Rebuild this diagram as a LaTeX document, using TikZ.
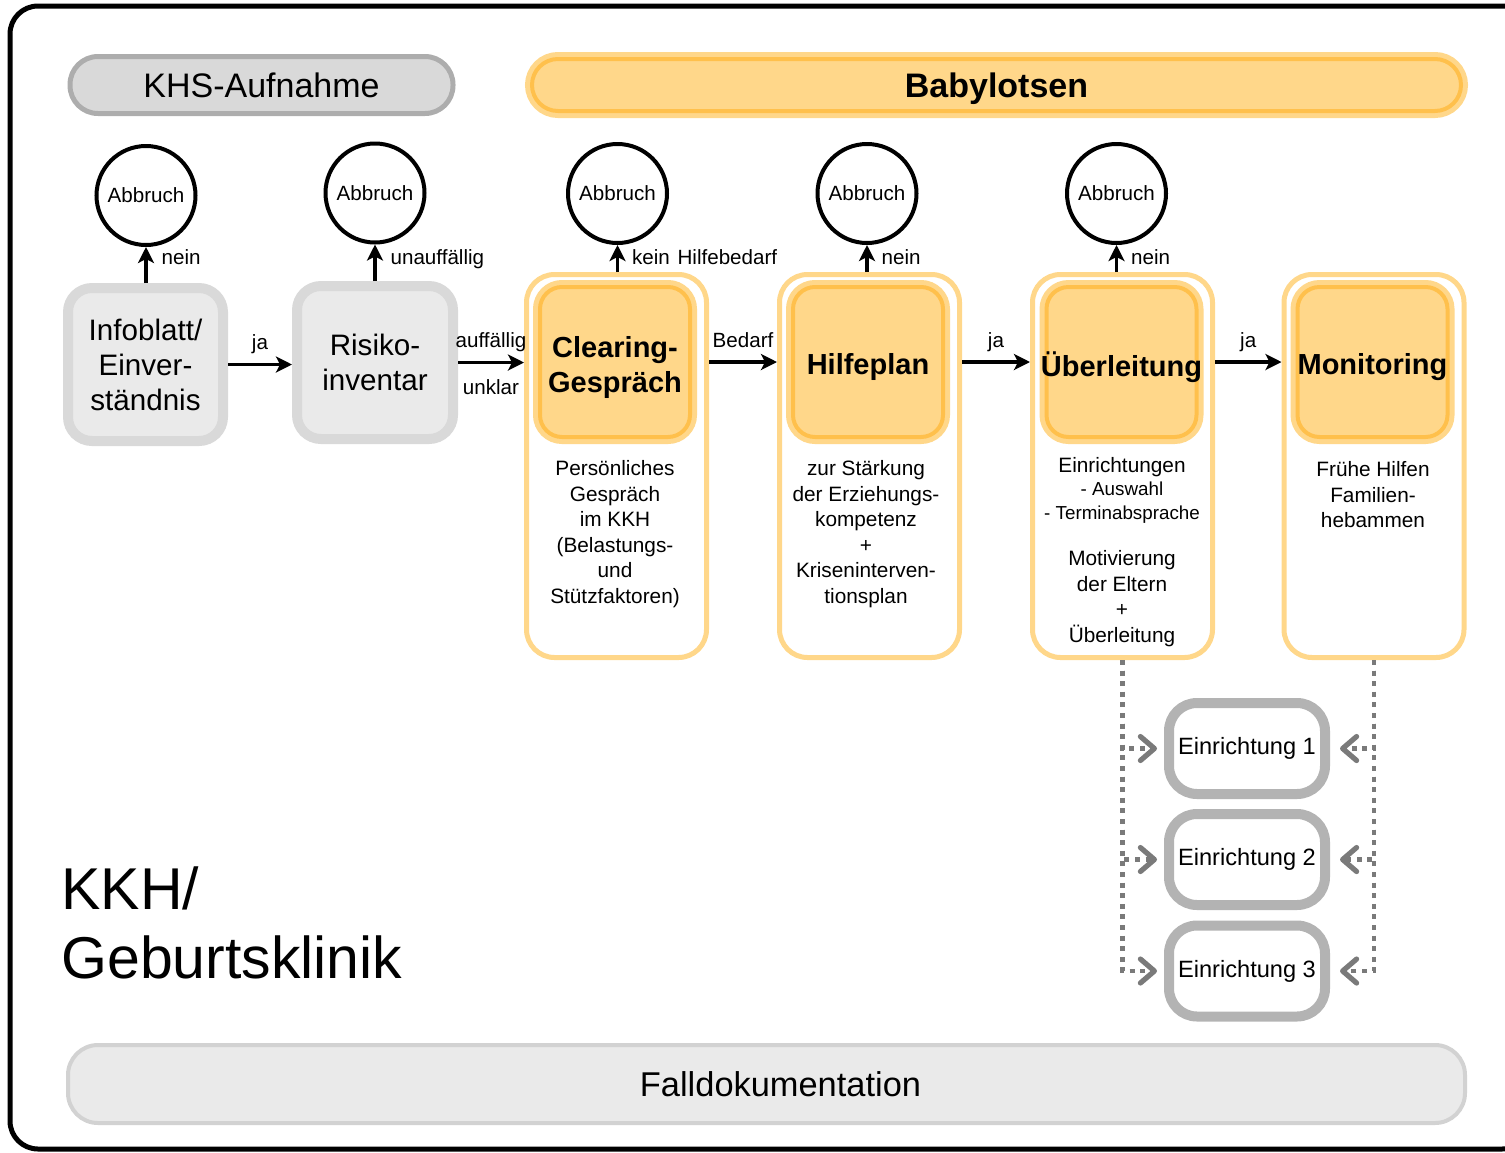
\documentclass[tikz,border=0pt]{standalone}
\usepackage{fontspec}
\setmainfont{Liberation Sans}
\usetikzlibrary{arrows.meta}
\definecolor{lorange}{HTML}{FFD78A}
\definecolor{dorange}{HTML}{FFC04C}
\definecolor{gring}{HTML}{D9D9D9}
\definecolor{gfill}{HTML}{EAEAEA}
\definecolor{khsfill}{HTML}{D9D9D9}
\definecolor{khsring}{HTML}{ADADAD}
\definecolor{einring}{HTML}{B3B3B3}
\definecolor{fallring}{HTML}{D2D2D2}
\definecolor{dotgray}{HTML}{7A7A7A}
\newcommand{\myfs}[2]{\fontsize{#1}{#2}\selectfont}
\begin{document}
\begin{tikzpicture}[x=0.5pt,y=-0.5pt,
  graybox/.style={draw=gring, line width=5pt, fill=gfill, rounded corners=12pt, minimum width=77.5pt, minimum height=76.5pt, align=center, inner sep=0pt, font=\myfs{14.8}{17.5}},
  container/.style={draw=lorange, line width=2.5pt, fill=white, rounded corners=14pt, minimum width=90pt, minimum height=191.5pt, inner sep=0pt},
  obox/.style={fill=lorange, draw=dorange, line width=2pt, preaction={draw=lorange, line width=7pt}, rounded corners=11pt, minimum width=75pt, minimum height=75pt, inner sep=0pt},
  olabel/.style={font=\bfseries\myfs{14.5}{17.5}, align=center, inner sep=0pt, yshift=-2.5pt},
  abort/.style={circle, draw=black, line width=2pt, fill=white, minimum size=49.5pt, inner sep=0pt, font=\myfs{10.3}{12}},
  arr/.style={line width=1.6pt, -{Stealth[length=8pt,width=8pt,inset=2pt]}},
  lbl/.style={font=\myfs{10.3}{12}, inner sep=0pt},
  vlbl/.style={lbl, midway, anchor=base west, xshift=7pt, yshift=0.5pt},
  vlblc/.style={lbl, midway, anchor=base west, xshift=6.5pt, yshift=-3pt},
  hlbl/.style={lbl, midway, anchor=base, yshift=7.5pt},
  subtext/.style={font=\myfs{10.4}{12.8}, align=center, inner sep=0pt, anchor=north},
  einr/.style={draw=einring, line width=5pt, fill=white, rounded corners=14pt, minimum width=78pt, minimum height=45.5pt, inner sep=0pt, font=\myfs{11.8}{14}},
  dotarr/.style={draw=dotgray, line width=2.3pt, dash pattern=on 2.5pt off 2.8pt, -{Straight Barb[length=7pt,width=12pt,round,line width=2.6pt]}}
]
\useasboundingbox (0,0) rectangle (1505,1152);
\begin{scope}
\clip (0,0) rectangle (1505,1152);
\draw[line width=2.5pt, rounded corners=14pt] (10,6) rectangle (1530,1149);
\end{scope}

% header bars
\node[draw=khsring, line width=2.5pt, fill=khsfill, rounded corners=14pt, minimum width=191.5pt, minimum height=28.5pt, inner sep=0pt, font=\myfs{17}{20}] (khs) at (261.5,85) {KHS-Aufnahme};
\node[obox, minimum width=464.5pt, minimum height=26pt, rounded corners=13pt, label={[font=\bfseries\myfs{17}{20}, yshift=-2pt]center:Babylotsen}] (baby) at (996.5,85) {};

% gray boxes
\node[graybox] (info) at (145.5,364.5) {Infoblatt/\\Einver-\\ständnis};
\node[graybox, minimum width=78pt] (risk) at (375,362.5) {Risiko-\\inventar};

% orange containers
\node[container] (cc) at (616.5,466) {};
\node[container] (hc) at (869.5,466) {};
\node[container] (uc) at (1122.5,466) {};
\node[container] (mc) at (1374,466) {};

\node[obox, label={[olabel]center:{Clearing-\\Gespräch}}] (clr) at (615,362) {};
\node[obox, label={[olabel]center:{Hilfeplan}}] (hp) at (868,362) {};
\node[obox, label={[olabel]center:{Überleitung}}] (ul) at (1121.5,362) {};
\node[obox, label={[olabel]center:{Monitoring}}] (mo) at (1372.5,362) {};

\node[subtext] (clrtxt) at (615,460) {Persönliches\\Gespräch\\im KKH\\(Belastungs-\\und\\Stützfaktoren)};
\node[subtext] (hptxt) at (866,460) {zur Stärkung\\der Erziehungs-\\kompetenz\\+\\Kriseninterven-\\tionsplan};
\node[subtext] (ultxt) at (1122,457) {Einrichtungen\\[-1.2pt]{\myfs{9.4}{11}- Auswahl}\\[-0.8pt]{\myfs{9.4}{11}- Terminabsprache}\\[10.2pt]Motivierung\\der Eltern\\+\\Überleitung};
\node[subtext] (motxt) at (1373,461) {Frühe Hilfen\\Familien-\\hebammen};

% abort circles
\node[abort] (a1) at (146,195.5) {Abbruch};
\node[abort] (a2) at (375,193) {Abbruch};
\node[abort] (a3) at (617.5,193.5) {Abbruch};
\node[abort] (a4) at (867,193.5) {Abbruch};
\node[abort] (a5) at (1116.5,193.5) {Abbruch};

\draw[arr] (a1.south |- info.north) -- (a1.south) node[vlbl] {nein};
\draw[arr] (a2.south |- risk.north) -- (a2.south) node[vlbl, yshift=-1.5pt] {unauffällig};
\draw[arr] (a3.south |- cc.north) -- (a3.south) node[vlblc] {kein\ \hspace{1pt}Hilfebedarf};
\draw[arr] (a4.south |- hc.north) -- (a4.south) node[vlblc] {nein};
\draw[arr] (a5.south |- uc.north) -- (a5.south) node[vlblc] {nein};

% horizontal flow
\draw[arr] (info.east) -- (info.east -| risk.west) node[hlbl] {ja};
\draw[arr] (risk.east) -- (risk.east -| cc.west) node[hlbl] {auffällig} node[lbl, midway, anchor=base, yshift=-16pt] {unklar};
\draw[arr] (clr.east -| cc.east) -- (clr.east -| hc.west) node[hlbl] {Bedarf};
\draw[arr] (hp.east -| hc.east) -- (hp.east -| uc.west) node[hlbl] {ja};
\draw[arr] (ul.east -| uc.east) -- (ul.east -| mc.west) node[hlbl] {ja};

% Einrichtungen
\node[einr] (e1) at (1247,748.5) {Einrichtung 1};
\node[einr] (e2) at (1247,859.5) {Einrichtung 2};
\node[einr] (e3) at (1247,971) {Einrichtung 3};

\draw[dotarr, shorten >=3.5pt] (uc.south) |- (e1.west);
\draw[dotarr, shorten >=3.5pt] (uc.south) |- (e2.west);
\draw[dotarr, shorten >=3.5pt] (uc.south) |- (e3.west);
\draw[dotarr, shorten >=5pt] (mc.south) |- (e1.east);
\draw[dotarr, shorten >=5pt] (mc.south) |- (e2.east);
\draw[dotarr, shorten >=5pt] (mc.south) |- (e3.east);

% bottom
\node[anchor=north west, align=left, inner sep=0pt, font=\myfs{29.5}{34.5}] (kkh) at (61,866) {KKH/\\Geburtsklinik};
\node[draw=fallring, line width=2pt, fill=gfill, rounded corners=15pt, minimum width=698.5pt, minimum height=39pt, inner sep=0pt, label={[font=\myfs{17.2}{20}, xshift=7pt]center:Falldokumentation}] (fall) at (766.5,1084) {};
\end{tikzpicture}
\end{document}
